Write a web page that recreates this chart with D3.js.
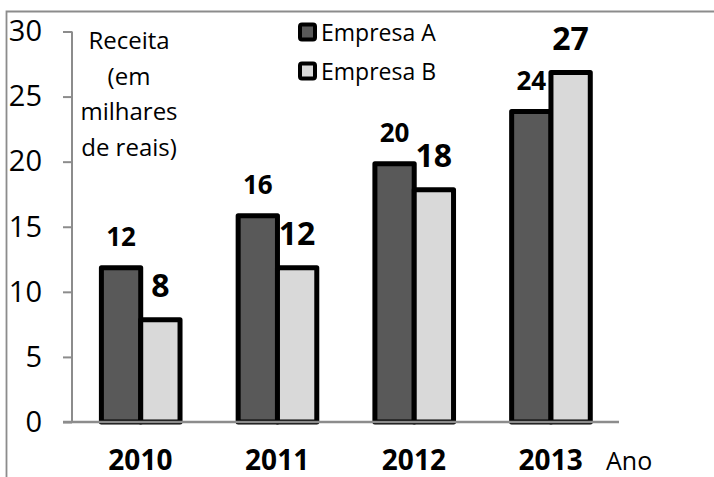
<!DOCTYPE html>
<html>
<head>
    <title>Receita por empresa</title>
    <script src="https://d3js.org/d3.v7.min.js"></script>
    <style>
        body {
            margin: 0;
            background-color: white;
        }
        text {
            font-family: "Open Sans", sans-serif;
            fill: #000;
        }
    </style>
</head>
<body>
    <div id="chart"></div>
    <script>
        // Chart data
        const years = ['2010', '2011', '2012', '2013'];
        const series = ['Empresa A', 'Empresa B'];
        const empresaA = [12, 16, 20, 24];
        const empresaB = [8, 12, 18, 27];
        const yTicks = [0, 5, 10, 15, 20, 25, 30];
        const yTitle = ['Receita', '(em', 'milhares', 'de reais)'];

        const width = 714;
        const height = 477;
        const colors = { 'Empresa A': '#595959', 'Empresa B': '#d9d9d9' };

        const svg = d3.select('#chart')
            .append('svg')
            .attr('width', width)
            .attr('height', height);

        // Frame (only top and left visible)
        svg.append('path')
            .attr('d', 'M6.5,' + height + 'V11.5H' + width)
            .attr('fill', 'none')
            .attr('stroke', '#8c8c8c')
            .attr('stroke-width', 1.8);

        const x = d3.scaleBand().domain(years).range([72, 619]);
        const x1 = d3.scaleBand().domain(series).range([x.bandwidth() * 0.215, x.bandwidth() * 0.79]);
        const y = d3.scaleLinear().domain([0, 30]).range([422, 31.5]);

        const rows = years.map((yr, i) => ({
            year: yr,
            values: [
                { key: 'Empresa A', value: empresaA[i] },
                { key: 'Empresa B', value: empresaB[i] }
            ]
        }));

        // Bars
        const groups = svg.append('g')
            .selectAll('g')
            .data(rows)
            .enter()
            .append('g')
            .attr('transform', d => 'translate(' + x(d.year) + ',0)');

        groups.selectAll('rect')
            .data(d => d.values)
            .enter()
            .append('rect')
            .attr('x', d => x1(d.key))
            .attr('y', d => y(d.value) + 2)
            .attr('width', x1.bandwidth())
            .attr('height', d => y(0) - y(d.value) - 2)
            .attr('fill', d => colors[d.key])
            .attr('stroke', '#000')
            .attr('stroke-width', 5)
            .attr('stroke-linejoin', 'round');

        // Value labels
        groups.selectAll('text')
            .data(d => d.values)
            .enter()
            .append('text')
            .attr('x', d => x1(d.key) + x1.bandwidth() / 2)
            .attr('y', d => y(d.value) - (d.key === 'Empresa A' ? 20 : 21))
            .attr('text-anchor', 'middle')
            .attr('font-weight', 'bold')
            .attr('font-size', d => d.key === 'Empresa A' ? 26 : 32)
            .text(d => d.value);

        // Y axis
        const yAxis = svg.append('g')
            .attr('transform', 'translate(72,0)')
            .call(d3.axisLeft(y).tickValues(yTicks).tickSize(9).tickPadding(21));
        yAxis.select('.domain').attr('stroke', '#8c8c8c').attr('stroke-width', 2)
            .attr('d', 'M0,' + y(30) + 'V' + y(0));
        yAxis.selectAll('.tick line').attr('stroke', '#8c8c8c').attr('stroke-width', 2);
        yAxis.selectAll('.tick text')
            .attr('font-size', 29)
            .attr('font-family', '"Open Sans", sans-serif')
            .attr('fill', '#000');

        // X axis
        const xAxis = svg.append('g')
            .attr('transform', 'translate(0,' + y(0) + ')')
            .call(d3.axisBottom(x).tickSize(0).tickPadding(28));
        xAxis.select('.domain').attr('stroke', '#8c8c8c').attr('stroke-width', 2.5)
            .attr('d', 'M63,0H619');
        xAxis.selectAll('.tick text')
            .attr('font-size', 28)
            .attr('font-weight', 'bold')
            .attr('font-family', '"Open Sans", sans-serif')
            .attr('fill', '#000');

        svg.append('text')
            .attr('x', 606)
            .attr('y', 470)
            .attr('font-size', 25)
            .text('Ano');

        // Y title
        svg.append('g')
            .selectAll('text')
            .data(yTitle)
            .enter()
            .append('text')
            .attr('x', 129)
            .attr('y', (d, i) => 49 + i * 35.5)
            .attr('text-anchor', 'middle')
            .attr('font-size', 24)
            .text(d => d);

        // Legend
        const legend = svg.append('g')
            .selectAll('g')
            .data(series)
            .enter()
            .append('g')
            .attr('transform', (d, i) => 'translate(298,' + (22.5 + i * 39) + ')');

        legend.append('rect')
            .attr('x', 2)
            .attr('y', 2)
            .attr('width', 15)
            .attr('height', 15)
            .attr('rx', 2)
            .attr('fill', d => colors[d])
            .attr('stroke', '#000')
            .attr('stroke-width', 4);

        legend.append('text')
            .attr('x', 23)
            .attr('y', 18.5)
            .attr('font-size', 23)
            .text(d => d);
    </script>
</body>
</html>
